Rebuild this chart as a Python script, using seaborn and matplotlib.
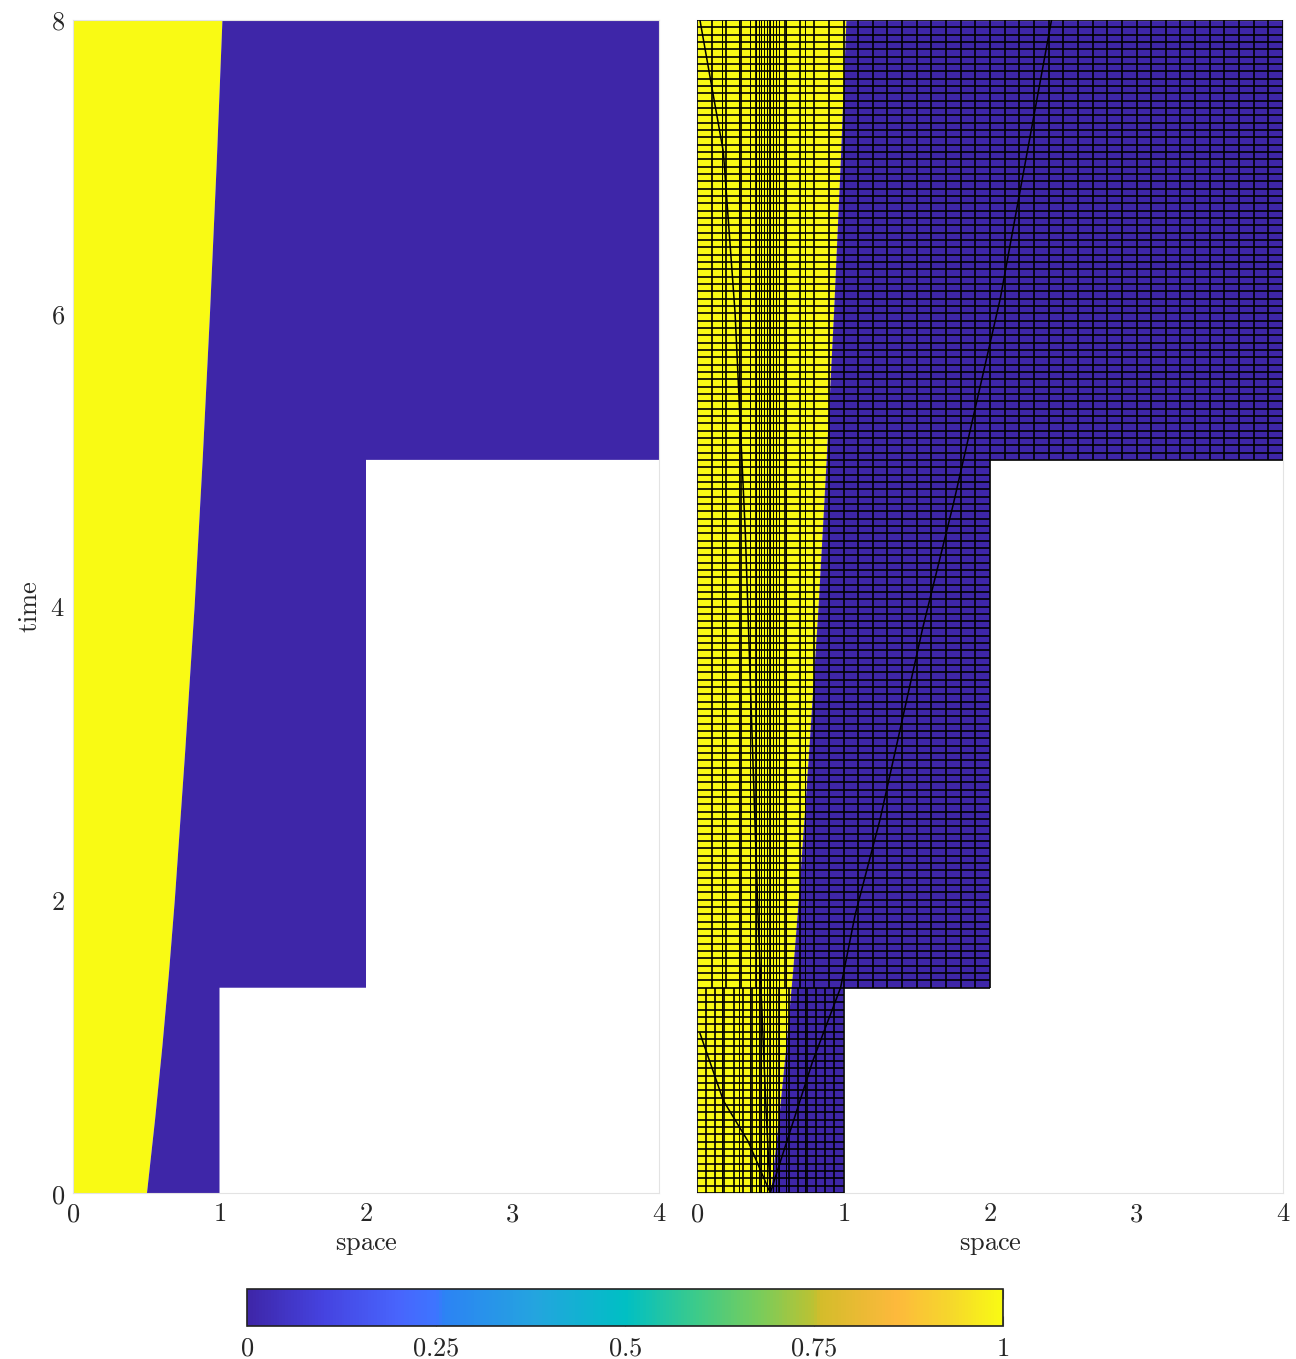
import numpy as np
import matplotlib
matplotlib.use("Agg")
import matplotlib.pyplot as plt
import seaborn as sns
import pandas as pd
from matplotlib.colors import LinearSegmentedColormap
from matplotlib.collections import LineCollection
from matplotlib.ticker import FuncFormatter, FixedLocator

# ---------------- data ----------------
# space-time domain: piecewise widths on time slabs
t_breaks = [0.0, 1.4, 5.0, 8.0]
slab_widths = [1.0, 2.0, 4.0]

# moving interface (yellow phase left of it)
t_interface = [0.0, 0.5, 1.0, 1.5, 2.0, 3.0, 4.0, 5.0, 6.0, 7.0, 8.0]
x_interface = [0.505, 0.56, 0.61, 0.655, 0.695, 0.765, 0.83, 0.885, 0.935, 0.98, 1.02]

# mesh description (right panel)
mesh_dt = 0.05
slab_dx = [0.0625, 0.1, 0.1]
x_refined = [0.17, 0.29, 0.36, 0.40, 0.42, 0.44, 0.46, 0.48, 0.50, 0.52, 0.54, 0.56, 0.61, 0.74]

char_right_x = [0.5, 0.79, 0.98, 1.08, 1.25, 1.54, 1.75, 2.07, 2.42]
char_right_t = [0.0, 0.9, 1.4, 1.9, 2.55, 3.85, 4.7, 6.1, 8.0]
char_left_x = [0.5, 0.47, 0.42, 0.38, 0.33, 0.26, 0.18, 0.02]
char_left_t = [0.0, 0.6, 1.8, 3.0, 4.5, 6.0, 7.1, 8.0]
char_low_x = [0.5, 0.35, 0.18, 0.02]
char_low_t = [0.0, 0.35, 0.63, 1.09]

cbar_ticks = [0, 0.25, 0.5, 0.75, 1]

# parula-like colormap
cmap_pos = [0.0, 0.10, 0.20, 0.25, 0.26, 0.38, 0.50, 0.60, 0.68, 0.75, 0.76, 0.86, 0.93, 1.0]
cmap_hex = ["#3E26A8", "#4543E0", "#4865FD", "#3D75FF", "#2C83F4", "#24A4DF", "#00BFC4",
            "#40CB87", "#7ACC5A", "#BBC233", "#D4BC2B", "#FDB93C", "#F6D62C", "#F9FA14"]

# ---------------- style ----------------
sns.set_theme(style="white")
plt.rcParams["mathtext.fontset"] = "cm"
plt.rcParams["font.family"] = ["DejaVu Serif"]
FS = 19

cmap = LinearSegmentedColormap.from_list("parula_like", list(zip(cmap_pos, cmap_hex)), N=256)
c_yellow = cmap(1.0)
c_blue = cmap(0.0)

W, H = 1296, 1359
fig = plt.figure(figsize=(W / 100, H / 100), dpi=100)
axL = fig.add_axes([73 / W, 1 - 1193 / H, 586 / W, 1173 / H])
axR = fig.add_axes([697 / W, 1 - 1193 / H, 586 / W, 1173 / H])
cax = fig.add_axes([247 / W, 1 - 1326 / H, 756 / W, 37 / H])


def draw_field(ax):
    tt = np.linspace(t_breaks[0], t_breaks[-1], 400)
    s = np.interp(tt, t_interface, x_interface)
    # right boundary staircase (top to bottom)
    stair = []
    for i in range(len(slab_widths) - 1, -1, -1):
        stair.append((slab_widths[i], t_breaks[i + 1]))
        stair.append((slab_widths[i], t_breaks[i]))
    yellow_poly = [(0, tt[0])] + list(zip(s, tt)) + [(0, tt[-1])]
    blue_poly = list(zip(s, tt)) + stair
    ax.fill(*zip(*yellow_poly), color=c_yellow, lw=0, zorder=1)
    ax.fill(*zip(*blue_poly), color=c_blue, lw=0, zorder=1)


def slab_width_at(t):
    for i in range(len(slab_widths)):
        if t < t_breaks[i + 1] - 1e-9:
            return slab_widths[i]
    return slab_widths[-1]


draw_field(axL)
draw_field(axR)

# mesh on right panel
segs = []
n_levels = int(round(t_breaks[-1] / mesh_dt))
for k in range(n_levels + 1):
    t = round(k * mesh_dt, 6)
    segs.append([(0, t), (slab_width_at(t), t)])
for i in range(len(slab_widths)):
    t0, t1 = t_breaks[i], t_breaks[i + 1]
    nx = int(round(slab_widths[i] / slab_dx[i]))
    for j in range(nx + 1):
        x = j * slab_dx[i]
        segs.append([(x, t0), (x, t1)])
axR.add_collection(LineCollection(segs, colors="black", linewidths=1.2, zorder=3))

ref_segs = [[(x, 0), (x, t_breaks[-1])] for x in x_refined]
axR.add_collection(LineCollection(ref_segs, colors="black", linewidths=0.7, zorder=3))

for xs, ts in [(char_right_x, char_right_t), (char_left_x, char_left_t), (char_low_x, char_low_t)]:
    df = pd.DataFrame({"x": xs, "t": ts})
    sns.lineplot(data=df, x="x", y="t", sort=False, estimator=None, color="black",
                 linewidth=1.1, ax=axR, zorder=4)

fmt = FuncFormatter(lambda v, p: f"${v:g}$")
for ax in (axL, axR):
    ax.set_xlim(0, 4)
    ax.set_ylim(0, 8)
    ax.xaxis.set_major_locator(FixedLocator([0, 1, 2, 3, 4]))
    ax.yaxis.set_major_locator(FixedLocator([0, 2, 4, 6, 8]))
    ax.xaxis.set_major_formatter(fmt)
    ax.yaxis.set_major_formatter(fmt)
    ax.tick_params(axis="both", length=0, labelsize=FS, pad=6)
    for sp in ax.spines.values():
        sp.set_color("#E3E3E3")
        sp.set_linewidth(0.8)
    ax.set_xlabel(r"$\mathrm{space}$", fontsize=FS, labelpad=4)
    ax.set_ylabel("")
axL.set_ylabel(r"$\mathrm{time}$", fontsize=FS, labelpad=6)
axR.set_yticklabels([])

sm = matplotlib.cm.ScalarMappable(cmap=cmap, norm=matplotlib.colors.Normalize(0, 1))
cb = fig.colorbar(sm, cax=cax, orientation="horizontal")
cb.set_ticks(cbar_ticks)
cb.set_ticklabels([f"${v:g}$" for v in cbar_ticks])
cax.tick_params(direction="in", length=7, color="gray", width=0.8, top=True, bottom=True,
                labeltop=False, labelbottom=True, labelsize=FS, pad=7)
cb.outline.set_edgecolor("#222222")
cb.outline.set_linewidth(1.2)

fig.savefig("out.png", dpi=100)
